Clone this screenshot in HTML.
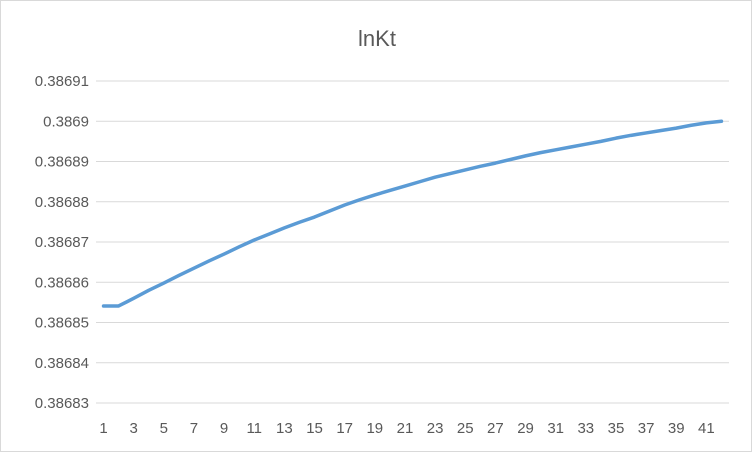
<!DOCTYPE html>
<html><head><meta charset="utf-8"><style>
html,body{margin:0;padding:0;background:#fff;}
#c{position:relative;width:752px;height:452px;border:1px solid #d9d9d9;box-sizing:border-box;background:#fff;}
svg{position:absolute;left:0;top:0;font-family:"Liberation Sans",sans-serif;}
</style></head><body>
<div id="c">
<svg id="s" width="752" height="452">
<text x="376" y="45" text-anchor="middle" font-size="22" fill="#595959">lnKt</text>
</svg></div>
<script>
const categories=[];for(let i=1;i<=42;i++)categories.push(i);
const values=[0.3868541,0.3868541,0.386856,0.386858,0.3868598,0.3868617,0.3868635,0.3868653,0.386867,0.3868688,0.3868705,0.386872,0.3868735,0.3868749,0.3868762,0.3868777,0.3868792,0.3868805,0.3868817,0.3868828,0.3868839,0.386885,0.3868861,0.386887,0.3868879,0.3868888,0.3868896,0.3868905,0.3868914,0.3868922,0.3868929,0.3868936,0.3868943,0.386895,0.3868958,0.3868965,0.3868971,0.3868977,0.3868983,0.386899,0.3868996,0.38690];
const yTicks=[0.38683,0.38684,0.38685,0.38686,0.38687,0.38688,0.38689,0.3869,0.38691];
const yTickLabels=["0.38683","0.38684","0.38685","0.38686","0.38687","0.38688","0.38689","0.3869","0.38691"];
const xTickLabels=[];for(let i=1;i<=41;i+=2)xTickLabels.push(i);
const NS="http://www.w3.org/2000/svg";const s=document.getElementById('s');
const L=95,R=728,yMin=0.38683,yMax=0.38691,yB=402,yT=80;
const xS=i=>L+(R-L)*(i+0.5)/categories.length;
const yS=v=>yB-(v-yMin)/(yMax-yMin)*(yB-yT);
function mk(t,a){const e=document.createElementNS(NS,t);for(const k in a)e.setAttribute(k,a[k]);s.appendChild(e);return e;}
yTicks.forEach((v,i)=>{
 const g=mk('line',{x1:L,x2:R,y1:yS(v),y2:yS(v),stroke:'#d9d9d9','stroke-width':1});
 
 
 const t=mk('text',{x:88,y:yS(v)+5,'text-anchor':'end','font-size':15,fill:'#595959'});
 t.textContent=yTickLabels[i];
 
 
});
xTickLabels.forEach(c=>{
 const t=mk('text',{x:xS(c-1),y:432,'text-anchor':'middle','font-size':15,fill:'#595959'});
 t.textContent=c;
 
 
});
const p=mk('polyline',{points:values.map((v,i)=>xS(i)+','+yS(v)).join(' '),fill:'none',stroke:'#5b9bd5','stroke-width':3.5,'stroke-linejoin':'round','stroke-linecap':'round'});


</script>
</body></html>
